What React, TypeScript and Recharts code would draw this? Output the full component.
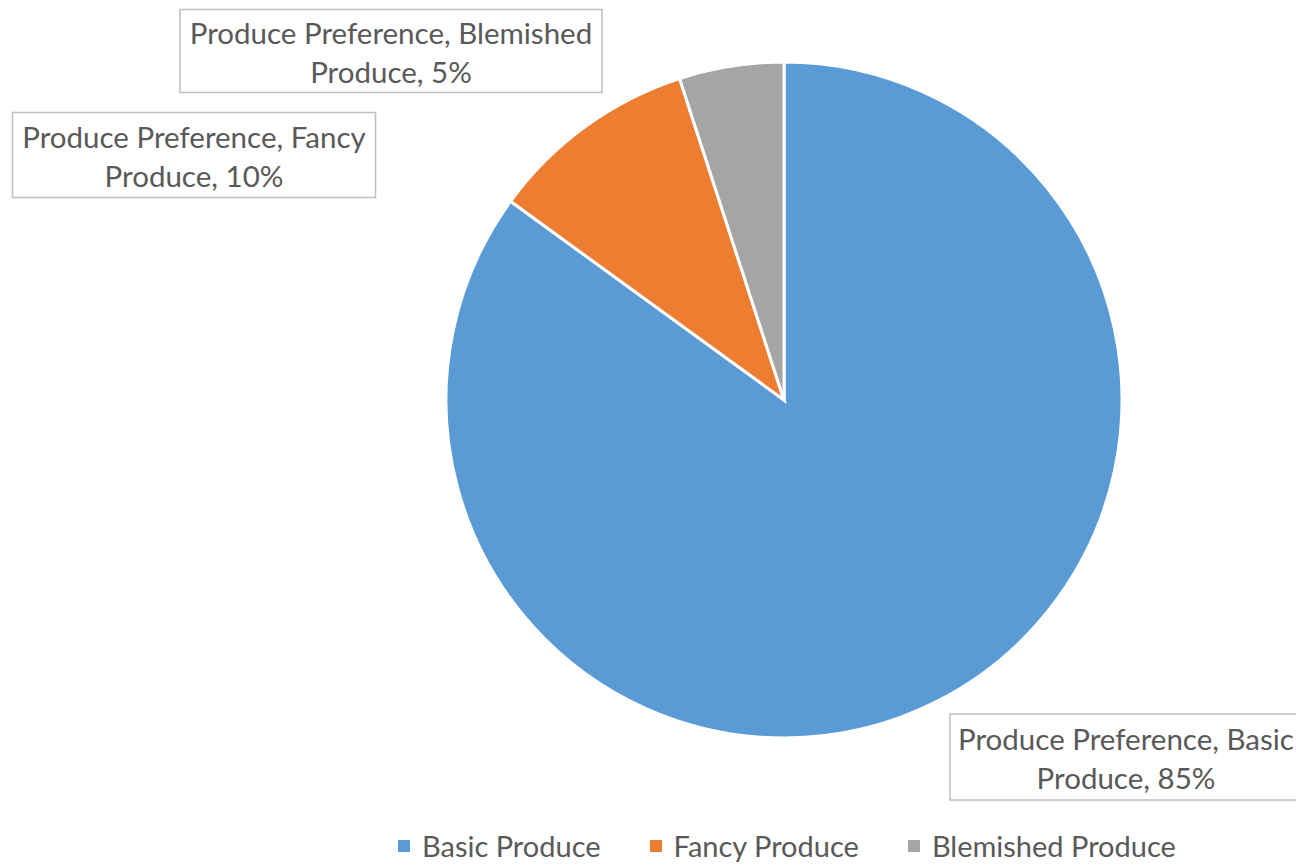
import React from "react";
import { PieChart, Pie, Cell, Legend } from "recharts";

const categories = ["Basic Produce", "Fancy Produce", "Blemished Produce"];
const shares = [85, 10, 5];
const seriesName = "Produce Preference";

const COLORS = ["#5B9BD5", "#ED7D31", "#A5A5A5"];
const TEXT = "#595959";
const FONT = "Lato, 'Open Sans', sans-serif";

// label box centres, relative to the pie centre (like Excel's dragged data labels)
const LABEL_BOX = [
  { dx: 342, dy: 357, w: 352, h: 86 },
  { dx: -590, dy: -245, w: 363, h: 85 },
  { dx: -393, dy: -349, w: 422, h: 83 },
];

const data = categories.map((name, i) => ({ name, value: shares[i] }));

function BoxLabel(props: any) {
  const { cx, cy, index, name, percent } = props;
  const box = LABEL_BOX[index];
  const x = cx + box.dx;
  const y = cy + box.dy;
  const words = name.split(" ");
  const line1 = `${seriesName}, ${words[0]}`;
  const line2 = `${words.slice(1).join(" ")}, ${Math.round(percent * 100)}%`;
  return (
    <g>
      <rect
        x={x - box.w / 2}
        y={y - box.h / 2}
        width={box.w}
        height={box.h}
        fill="#fff"
        stroke="#BFBFBF"
        strokeWidth={1.5}
      />
      <text
        x={x}
        y={y - 19}
        textAnchor="middle"
        dominantBaseline="central"
        fill={TEXT}
        fontSize={29.5}
        fontFamily={FONT}
      >
        {line1}
      </text>
      <text
        x={x}
        y={y + 20}
        textAnchor="middle"
        dominantBaseline="central"
        fill={TEXT}
        fontSize={29.5}
        fontFamily={FONT}
      >
        {line2}
      </text>
    </g>
  );
}

function LegendContent() {
  return (
    <div style={{ display: "flex", gap: 49, fontFamily: FONT, fontSize: 29, color: TEXT }}>
      {categories.map((c, i) => (
        <div key={c} style={{ display: "flex", alignItems: "center" }}>
          <span
            style={{ width: 12, height: 12, background: COLORS[i], marginRight: 12, display: "inline-block" }}
          />
          {c}
        </div>
      ))}
    </div>
  );
}

export default function App() {
  return (
    <div
      style={{
        position: "absolute",
        left: 0,
        top: 0,
        width: 1296,
        height: 865,
        overflow: "hidden",
        background: "#fff",
      }}
    >
      <PieChart width={1296} height={865} margin={{ top: 0, right: 0, bottom: 0, left: 0 }}>
        <Pie
          data={data}
          dataKey="value"
          nameKey="name"
          cx={784}
          cy={400}
          outerRadius={338}
          startAngle={90}
          endAngle={-270}
          stroke="#fff"
          strokeWidth={3}
          label={BoxLabel}
          labelLine={false}
          isAnimationActive={false}
        >
          {data.map((d, i) => (
            <Cell key={d.name} fill={COLORS[i]} />
          ))}
        </Pie>
        <Legend
          content={<LegendContent />}
          wrapperStyle={{ left: 398, top: 828, width: "auto" }}
        />
      </PieChart>
    </div>
  );
}
